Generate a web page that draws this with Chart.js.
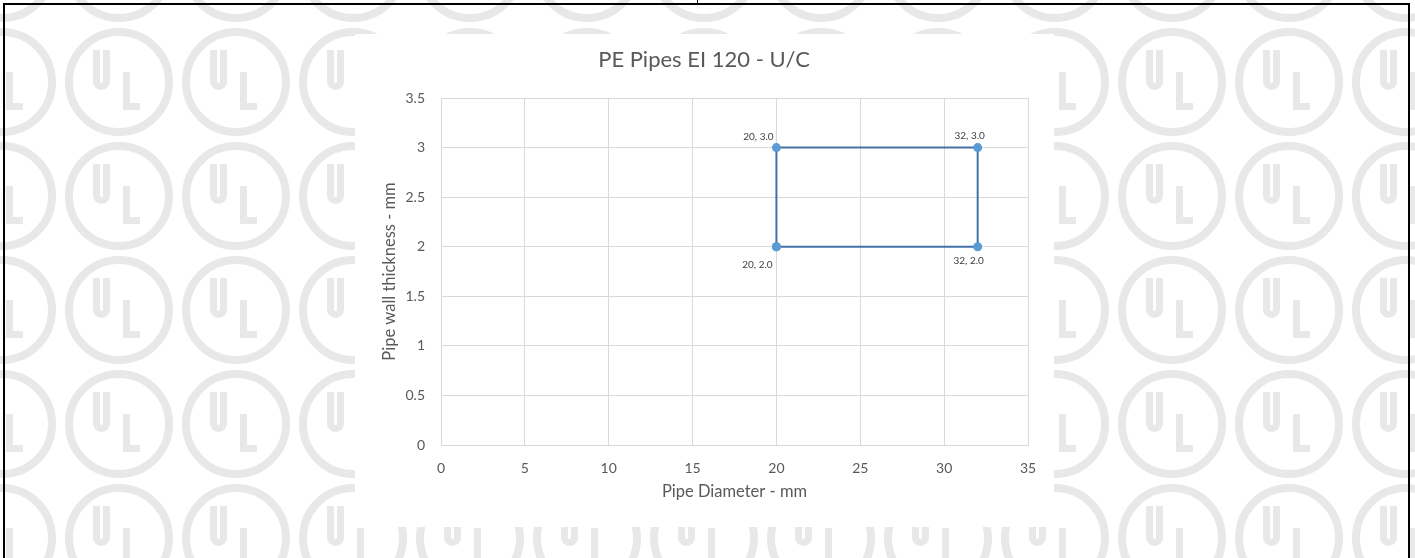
<!DOCTYPE html>
<html>
<head>
<meta charset="utf-8">
<title>PE Pipes EI 120 - U/C</title>
<script src="https://cdn.jsdelivr.net/npm/chart.js@4.4.1/dist/chart.umd.min.js"></script>
<style>
    html, body { margin: 0; padding: 0; background: #fff; }
    body { width: 1415px; height: 558px; position: relative; overflow: hidden; }
    #bg { position: absolute; left: 0; top: 0; }
    .rule { position: absolute; background: #000; }
    #card { position: absolute; left: 355px; top: 34px; width: 699px; height: 493px; background: #fff; }
    #chart { display: block; }
</style>
</head>
<body>
<canvas id="bg" width="1415" height="558"></canvas>
<div class="rule" style="left:3px;top:3px;width:1407px;height:2px"></div>
<div class="rule" style="left:3px;top:3px;width:2px;height:555px"></div>
<div class="rule" style="left:1408px;top:3px;width:2px;height:555px"></div>
<div class="rule" style="left:697px;top:0;width:1px;height:4px"></div>
<div id="card"><canvas id="chart" width="699" height="493"></canvas></div>

<script>
// chart data
const pipeDiameter  = [20, 20, 32, 32, 20];        // mm (x)
const wallThickness = [2.0, 3.0, 3.0, 2.0, 2.0];   // mm (y), last point closes the box
const labelCount = 4;                              // closing point gets no label

const xMin = 0, xMax = 35, xStep = 5;
const yMin = 0, yMax = 3.5, yStep = 0.5;

const TEXT = '#595959';
const GRID = '#d9d9d9';
const FONT = 'Lato, "Open Sans", sans-serif';

// faint UL watermark behind the sheet
function drawWatermark() {
    const ctx = document.getElementById('bg').getContext('2d');
    ctx.strokeStyle = '#e8e8e8';
    for (let row = -1; row < 6; row++) {
        for (let col = -1; col < 14; col++) {
            const cx = 2 + col * 117;
            const cy = 82 + row * 114;
            ctx.lineWidth = 8;
            ctx.beginPath();
            ctx.arc(cx, cy, 50, 0, Math.PI * 2);
            ctx.stroke();

            ctx.lineWidth = 7;
            // U
            ctx.beginPath();
            ctx.moveTo(cx - 22.5, cy - 32);
            ctx.lineTo(cx - 22.5, cy - 0.5);
            ctx.arc(cx - 17.5, cy - 0.5, 5, Math.PI, 0, true);
            ctx.lineTo(cx - 12.5, cy - 32);
            ctx.stroke();
            // L
            ctx.beginPath();
            ctx.moveTo(cx + 7.5, cy - 10);
            ctx.lineTo(cx + 7.5, cy + 24.5);
            ctx.lineTo(cx + 21, cy + 24.5);
            ctx.stroke();
        }
    }
}

// "x, y" labels next to each corner
const pointLabels = {
    id: 'pointLabels',
    afterDatasetsDraw(chart, args, opts) {
        const meta = chart.getDatasetMeta(0);
        const ctx = chart.ctx;
        ctx.save();
        ctx.font = `10px ${FONT}`;
        ctx.fillStyle = '#404040';
        ctx.textAlign = 'center';
        ctx.textBaseline = 'middle';
        for (let i = 0; i < labelCount; i++) {
            const p = meta.data[i];
            const o = opts.offsets[i];
            ctx.fillText(`${pipeDiameter[i]}, ${wallThickness[i].toFixed(1)}`, p.x + o[0], p.y + o[1]);
        }
        ctx.restore();
    }
};

drawWatermark();

const points = pipeDiameter.map((x, i) => ({ x: x, y: wallThickness[i] }));

new Chart(document.getElementById('chart'), {
    type: 'scatter',
    data: {
        datasets: [{
            data: points,
            showLine: true,
            borderColor: '#4472a8',
            borderWidth: 2,
            pointRadius: 4.5,
            pointBackgroundColor: '#5b9bd5',
            pointBorderColor: '#5b9bd5',
            pointBorderWidth: 0
        }]
    },
    plugins: [pointLabels],
    options: {
        responsive: false,
        animation: false,
        layout: { padding: { left: 25, right: 26, top: 0, bottom: 0 } },
        plugins: {
            legend: { display: false },
            tooltip: { enabled: false },
            title: {
                display: true,
                text: 'PE Pipes EI 120 - U/C',
                color: TEXT,
                font: { family: FONT, size: 22, weight: 'normal' },
                padding: { top: 13, bottom: 24.6 }
            },
            pointLabels: { offsets: [[-19, 18], [-18, -11], [-8, -12], [-9, 14]] }
        },
        scales: {
            x: {
                type: 'linear',
                min: xMin, max: xMax,
                ticks: { stepSize: xStep, color: TEXT, font: { family: FONT, size: 14 }, padding: 15, maxRotation: 0 },
                grid: { color: GRID, drawTicks: false },
                border: { color: GRID },
                title: {
                    display: true,
                    text: 'Pipe Diameter - mm',
                    color: TEXT,
                    font: { family: FONT, size: 16.5 },
                    padding: { top: 0, bottom: 25 }
                },
                afterFit: s => { s.height = 82; }
            },
            y: {
                type: 'linear',
                min: yMin, max: yMax,
                ticks: {
                    stepSize: yStep, color: TEXT, font: { family: FONT, size: 14 }, padding: 16,
                    callback: v => String(v)
                },
                grid: { color: GRID, drawTicks: false },
                border: { color: GRID },
                title: {
                    display: true,
                    text: 'Pipe wall thickness - mm',
                    color: TEXT,
                    font: { family: FONT, size: 16.5 },
                    padding: { top: 0, bottom: 0 }
                },
                afterFit: s => { s.width = 61; }
            }
        }
    }
});
</script>
</body>
</html>
